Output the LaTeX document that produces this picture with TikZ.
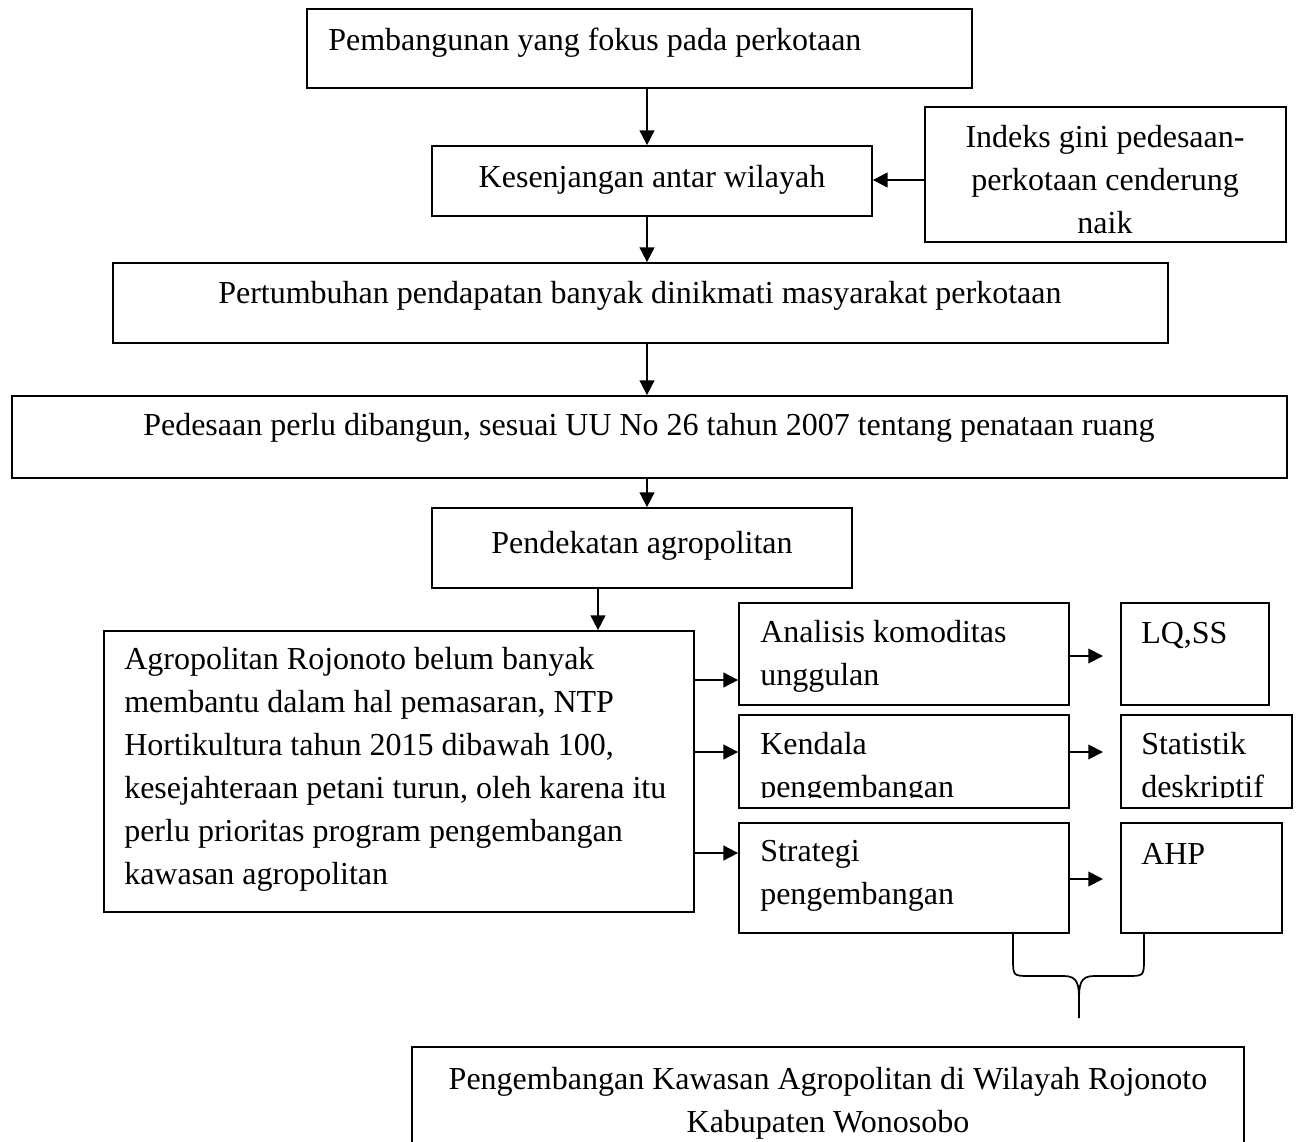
\documentclass[tikz,border=0pt]{standalone}
\usepackage{fontspec}
\setmainfont{Liberation Serif}
\usetikzlibrary{arrows.meta,fit,calc}
\begin{document}
\begin{tikzpicture}[x=0.75pt,y=-0.75pt,
  box/.style={draw, line width=1.3pt, inner sep=0pt, rectangle},
  txt/.style={inner sep=0pt, font=\fontsize{24}{32.25}\selectfont},
  arr/.style={line width=1.3pt, -{Triangle[length=11pt,width=11pt]}},
  bracestyle/.style={line width=1.3pt, line join=round}]
\useasboundingbox (0,0) rectangle (1296,1142);
\clip (0,0) rectangle (1296,1142);

% main column
\node[box, fit={(307,9)(972,88)}] (b1) {};
\node[txt, anchor=west] (t1) at (328,43) {Pembangunan yang fokus pada perkotaan};

\node[box, fit={(432,146)(872,216)}] (b2) {};
\node[txt] (t2) at (652,180) {Kesenjangan antar wilayah};

\node[box, fit={(925,107)(1286,242)}] (b3) {};
\node[txt, align=center] (t3) at (1105,180) {Indeks gini pedesaan-\\perkotaan cenderung\\naik};

\node[box, fit={(113,263)(1168,343)}] (b4) {};
\node[txt, anchor=west] (t4) at (218,296) {Pertumbuhan pendapatan banyak dinikmati masyarakat perkotaan};

\node[box, fit={(12,396)(1287,478)}] (b5) {};
\node[txt, anchor=west] (t5) at (143,428) {Pedesaan perlu dibangun, sesuai UU No 26 tahun 2007 tentang penataan ruang};

\node[box, fit={(432,508)(852,588)}] (b6) {};
\node[txt] (t6) at (642,546) {Pendekatan agropolitan};

\node[box, fit={(104,631)(694,912)}] (b7) {};
\node[txt, align=left, anchor=west] (t7) at (124,769) {Agropolitan Rojonoto belum banyak\\membantu dalam hal pemasaran, NTP\\Hortikultura tahun 2015 dibawah 100,\\kesejahteraan petani turun, oleh karena itu\\perlu prioritas program pengembangan\\kawasan agropolitan};

% right column
\node[box, fit={(739,603)(1069,705)}] (r1) {};
\node[txt, align=left, anchor=west] (u1) at (760,656) {Analisis komoditas\\unggulan};

\node[box, fit={(739,715)(1069,808)}] (r2) {};
\begin{scope}
\clip (739,715) rectangle (1069,797);
\node[txt, align=left, anchor=west] (u2) at (760,768) {Kendala\\pengembangan};
\end{scope}

\node[box, fit={(739,823)(1069,933)}] (r3) {};
\node[txt, align=left, anchor=west] (u3) at (760,876) {Strategi\\pengembangan};

\node[box, fit={(1121,603)(1269,705)}] (s1) {};
\node[txt, anchor=west] (v1) at (1141,635) {LQ,SS};

\node[box, fit={(1121,715)(1292,808)}] (s2) {};
\begin{scope}
\clip (1121,715) rectangle (1292,797);
\node[txt, align=left, anchor=west] (v2) at (1141,768) {Statistik\\deskriptif};
\end{scope}

\node[box, fit={(1121,823)(1282,933)}] (s3) {};
\node[txt, anchor=west] (v3) at (1141,854) {AHP};

% bottom box
\node[box, fit={(412,1047)(1244,1170)}] (b8) {};
\node[txt, align=center] (t8) at (828,1103) {Pengembangan Kawasan Agropolitan di Wilayah Rojonoto\\Kabupaten Wonosobo};

% connectors
\coordinate (xa) at (647,0);
\coordinate (xb) at (598,0);
\coordinate (ya) at (0,180);
\draw[arr] (b1.south -| xa) -- (b2.north -| xa);
\draw[arr] (b3.west |- ya) -- (b2.east |- ya);
\draw[arr] (b2.south -| xa) -- (b4.north -| xa);
\draw[arr] (b4.south -| xa) -- (b5.north -| xa);
\draw[arr] (b5.south -| xa) -- (b6.north -| xa);
\draw[arr] (b6.south -| xb) -- (b7.north -| xb);

\coordinate (y1) at (0,680);
\coordinate (y2) at (0,752);
\coordinate (y3) at (0,853);
\draw[arr] (b7.east |- y1) -- (r1.west |- y1);
\draw[arr] (b7.east |- y2) -- (r2.west |- y2);
\draw[arr] (b7.east |- y3) -- (r3.west |- y3);

\coordinate (e1) at (1103,656);
\coordinate (e2) at (1103,752);
\coordinate (e3) at (1103,879);
\draw[arr] (r1.east |- e1) -- (e1);
\draw[arr] (r2.east |- e2) -- (e2);
\draw[arr] (r3.east |- e3) -- (e3);

% brace
\draw[bracestyle] (1013,933) -- (1013,958) .. controls (1013,976) .. (1030,976) -- (1064,976) .. controls (1078,976) and (1079,985) .. (1079,1000) -- (1079,1018);
\draw[bracestyle] (1144,933) -- (1144,958) .. controls (1144,976) .. (1127,976) -- (1094,976) .. controls (1080,976) and (1079,985) .. (1079,1000);
\end{tikzpicture}
\end{document}
